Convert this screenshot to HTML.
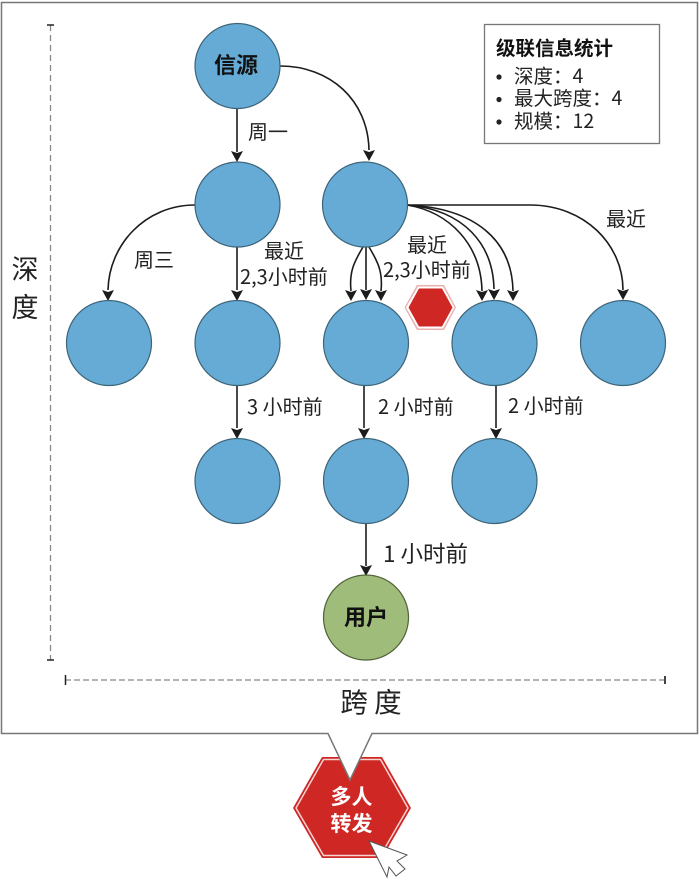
<!DOCTYPE html>
<html><head><meta charset="utf-8"><style>
html,body{margin:0;padding:0;background:#fff}
svg{display:block}
text{font-family:"Noto Sans CJK SC","Liberation Sans",sans-serif;fill:#222}
.c{fill:#65abd5;stroke:#3d6478;stroke-width:1.2}
.l{fill:none;stroke:#1c1c1c;stroke-width:1.6}
.a{fill:#1c1c1c;stroke:none}
</style></head><body>
<svg width="700" height="882" viewBox="0 0 700 882" xmlns="http://www.w3.org/2000/svg">
<rect width="700" height="882" fill="#fff"/>
<polygon points="322,757 382,757 411,808 382,858 322,858 293,808" fill="#cf2724"/>
<polygon points="323.500,759.500 380.500,759.500 408,808 380.500,855.500 323.500,855.500 296,808" fill="none" stroke="#f5d5d4" stroke-width="1.500"/>
<polygon points="1.500,2.500 697.500,2.500 697.500,733.500 372,733.500 350,780 328,733.500 1.500,733.500" fill="#fff" stroke="#777" stroke-width="1.500"/>
<text x="351.500" y="804" font-size="21" font-weight="700" text-anchor="middle" style="fill:#fff">多人</text>
<text x="351.500" y="831" font-size="21" font-weight="700" text-anchor="middle" style="fill:#fff">转发</text>
<polygon points="369,841 407,855 397,861 405,869 396,876 389,867 387,877" fill="#fff" stroke="#555" stroke-width="1"/>

<line x1="50.500" y1="25" x2="50.500" y2="660" stroke="#888" stroke-width="1.300" stroke-dasharray="6 4"/>
<line x1="47" y1="25" x2="54" y2="25" stroke="#222" stroke-width="1.500"/>
<line x1="47" y1="660" x2="54" y2="660" stroke="#222" stroke-width="1.500"/>
<line x1="65" y1="680" x2="665" y2="680" stroke="#888" stroke-width="1.300" stroke-dasharray="6 3"/>
<line x1="65.500" y1="675" x2="65.500" y2="685" stroke="#222" stroke-width="1.500"/>
<line x1="665" y1="676" x2="665" y2="684" stroke="#444" stroke-width="2"/>
<text x="25" y="279" font-size="27" text-anchor="middle">深</text>
<text x="25" y="317" font-size="27" text-anchor="middle">度</text>
<text x="371" y="712" font-size="27.500" text-anchor="middle">跨 度</text>

<path class="l" d="M237 108V152"/><polygon class="a" points="237,162 231,151 237,153 243,151"/>
<path class="l" d="M280 66C330 66 368 100 369 150"/><polygon class="a" points="369,161 363,150 369,152 375,150"/>
<path class="l" d="M195 205C145 205 109 245 108 290"/><polygon class="a" points="108,301 102,290 108,292 114,290"/>
<path class="l" d="M237 247V290"/><polygon class="a" points="237,301 231,290 237,292 243,290"/>
<path class="l" d="M363 247C354 262 349 272 351 291"/><polygon class="a" points="351,301 345,290 351,292 357,290"/>
<path class="l" d="M366 247V290"/><polygon class="a" points="366,300 360,289 366,291 372,289"/>
<path class="l" d="M369 247C378 262 383 272 381 291"/><polygon class="a" points="381,301 375,290 381,292 387,290"/>
<path class="l" d="M407 205C450 212 481 245 482 291"/><polygon class="a" points="482,301 476,290 482,292 488,290"/>
<path class="l" d="M407 205C465 210 493 245 494 289"/><polygon class="a" points="494,300 488,289 494,291 500,289"/>
<path class="l" d="M407 205C475 208 512 240 513 291"/><polygon class="a" points="513,301 507,290 513,292 519,290"/>
<path class="l" d="M407 205H530C585 205 623 245 623 290"/><polygon class="a" points="623,300 617,289 623,291 629,289"/>
<path class="l" d="M237 385V428"/><polygon class="a" points="237,439 231,428 237,430 243,428"/>
<path class="l" d="M364 385V428"/><polygon class="a" points="364,439 358,428 364,430 370,428"/>
<path class="l" d="M496 385V428"/><polygon class="a" points="496,439 490,428 496,430 502,428"/>
<path class="l" d="M366 523V566"/><polygon class="a" points="366,576 360,565 366,567 372,565"/>

<circle class="c" cx="237.500" cy="66" r="42.500"/>
<circle class="c" cx="237.500" cy="204.500" r="42.500"/>
<circle class="c" cx="365" cy="204.500" r="42.500"/>
<circle class="c" cx="109" cy="343" r="42.500"/>
<circle class="c" cx="237.500" cy="343" r="42.500"/>
<circle class="c" cx="366" cy="343" r="42.500"/>
<circle class="c" cx="494.500" cy="343" r="42.500"/>
<circle class="c" cx="623" cy="343" r="42.500"/>
<circle class="c" cx="237.500" cy="481" r="42.500"/>
<circle class="c" cx="366" cy="481" r="42.500"/>
<circle class="c" cx="494.500" cy="481" r="42.500"/>
<circle cx="366" cy="617.500" r="42.500" fill="#a0bc7a" stroke="#4f6238" stroke-width="1.200"/>

<polygon points="417,285 444,285 456,307.500 444,330 417,330 404.500,307.500" fill="#e9b0ae"/>
<polygon points="418,286.500 443,286.500 454.500,307.500 443,328.500 418,328.500 406,307.500" fill="#fff"/>
<polygon points="419,288.500 442,288.500 452.500,307.500 442,326.500 419,326.500 408.500,307.500" fill="#cf2724"/>

<text x="236" y="73" font-size="22" font-weight="700" text-anchor="middle" style="fill:#111">信源</text>
<text x="366" y="625" font-size="22" font-weight="700" text-anchor="middle" style="fill:#111">用户</text>

<text x="248" y="139" font-size="20">周一</text>
<text x="134" y="267" font-size="20">周三</text>
<text x="264" y="258" font-size="20">最近</text>
<text x="240" y="284" font-size="20">2,3小时前</text>
<text x="407" y="252" font-size="20">最近</text>
<text x="383" y="277" font-size="20">2,3小时前</text>
<text x="606" y="226" font-size="20">最近</text>
<text x="247" y="414" font-size="20">3 小时前</text>
<text x="378" y="414" font-size="20">2 小时前</text>
<text x="508" y="413" font-size="20">2 小时前</text>
<text x="383" y="562" font-size="22.500">1 小时前</text>

<rect x="484.500" y="24.500" width="175" height="119" fill="#fff" stroke="#777" stroke-width="1.300"/>
<text x="496" y="55" font-size="19.500" font-weight="700" style="fill:#111">级联信息统计</text>
<circle cx="499" cy="77" r="2.600" fill="#222"/>
<circle cx="499" cy="99.500" r="2.600" fill="#222"/>
<circle cx="499" cy="122" r="2.600" fill="#222"/>
<text x="514" y="83" font-size="19.500">深度：4</text>
<text x="514" y="105" font-size="19.500">最大跨度：4</text>
<text x="514" y="128" font-size="19.500">规模：12</text>
</svg>
</body></html>
